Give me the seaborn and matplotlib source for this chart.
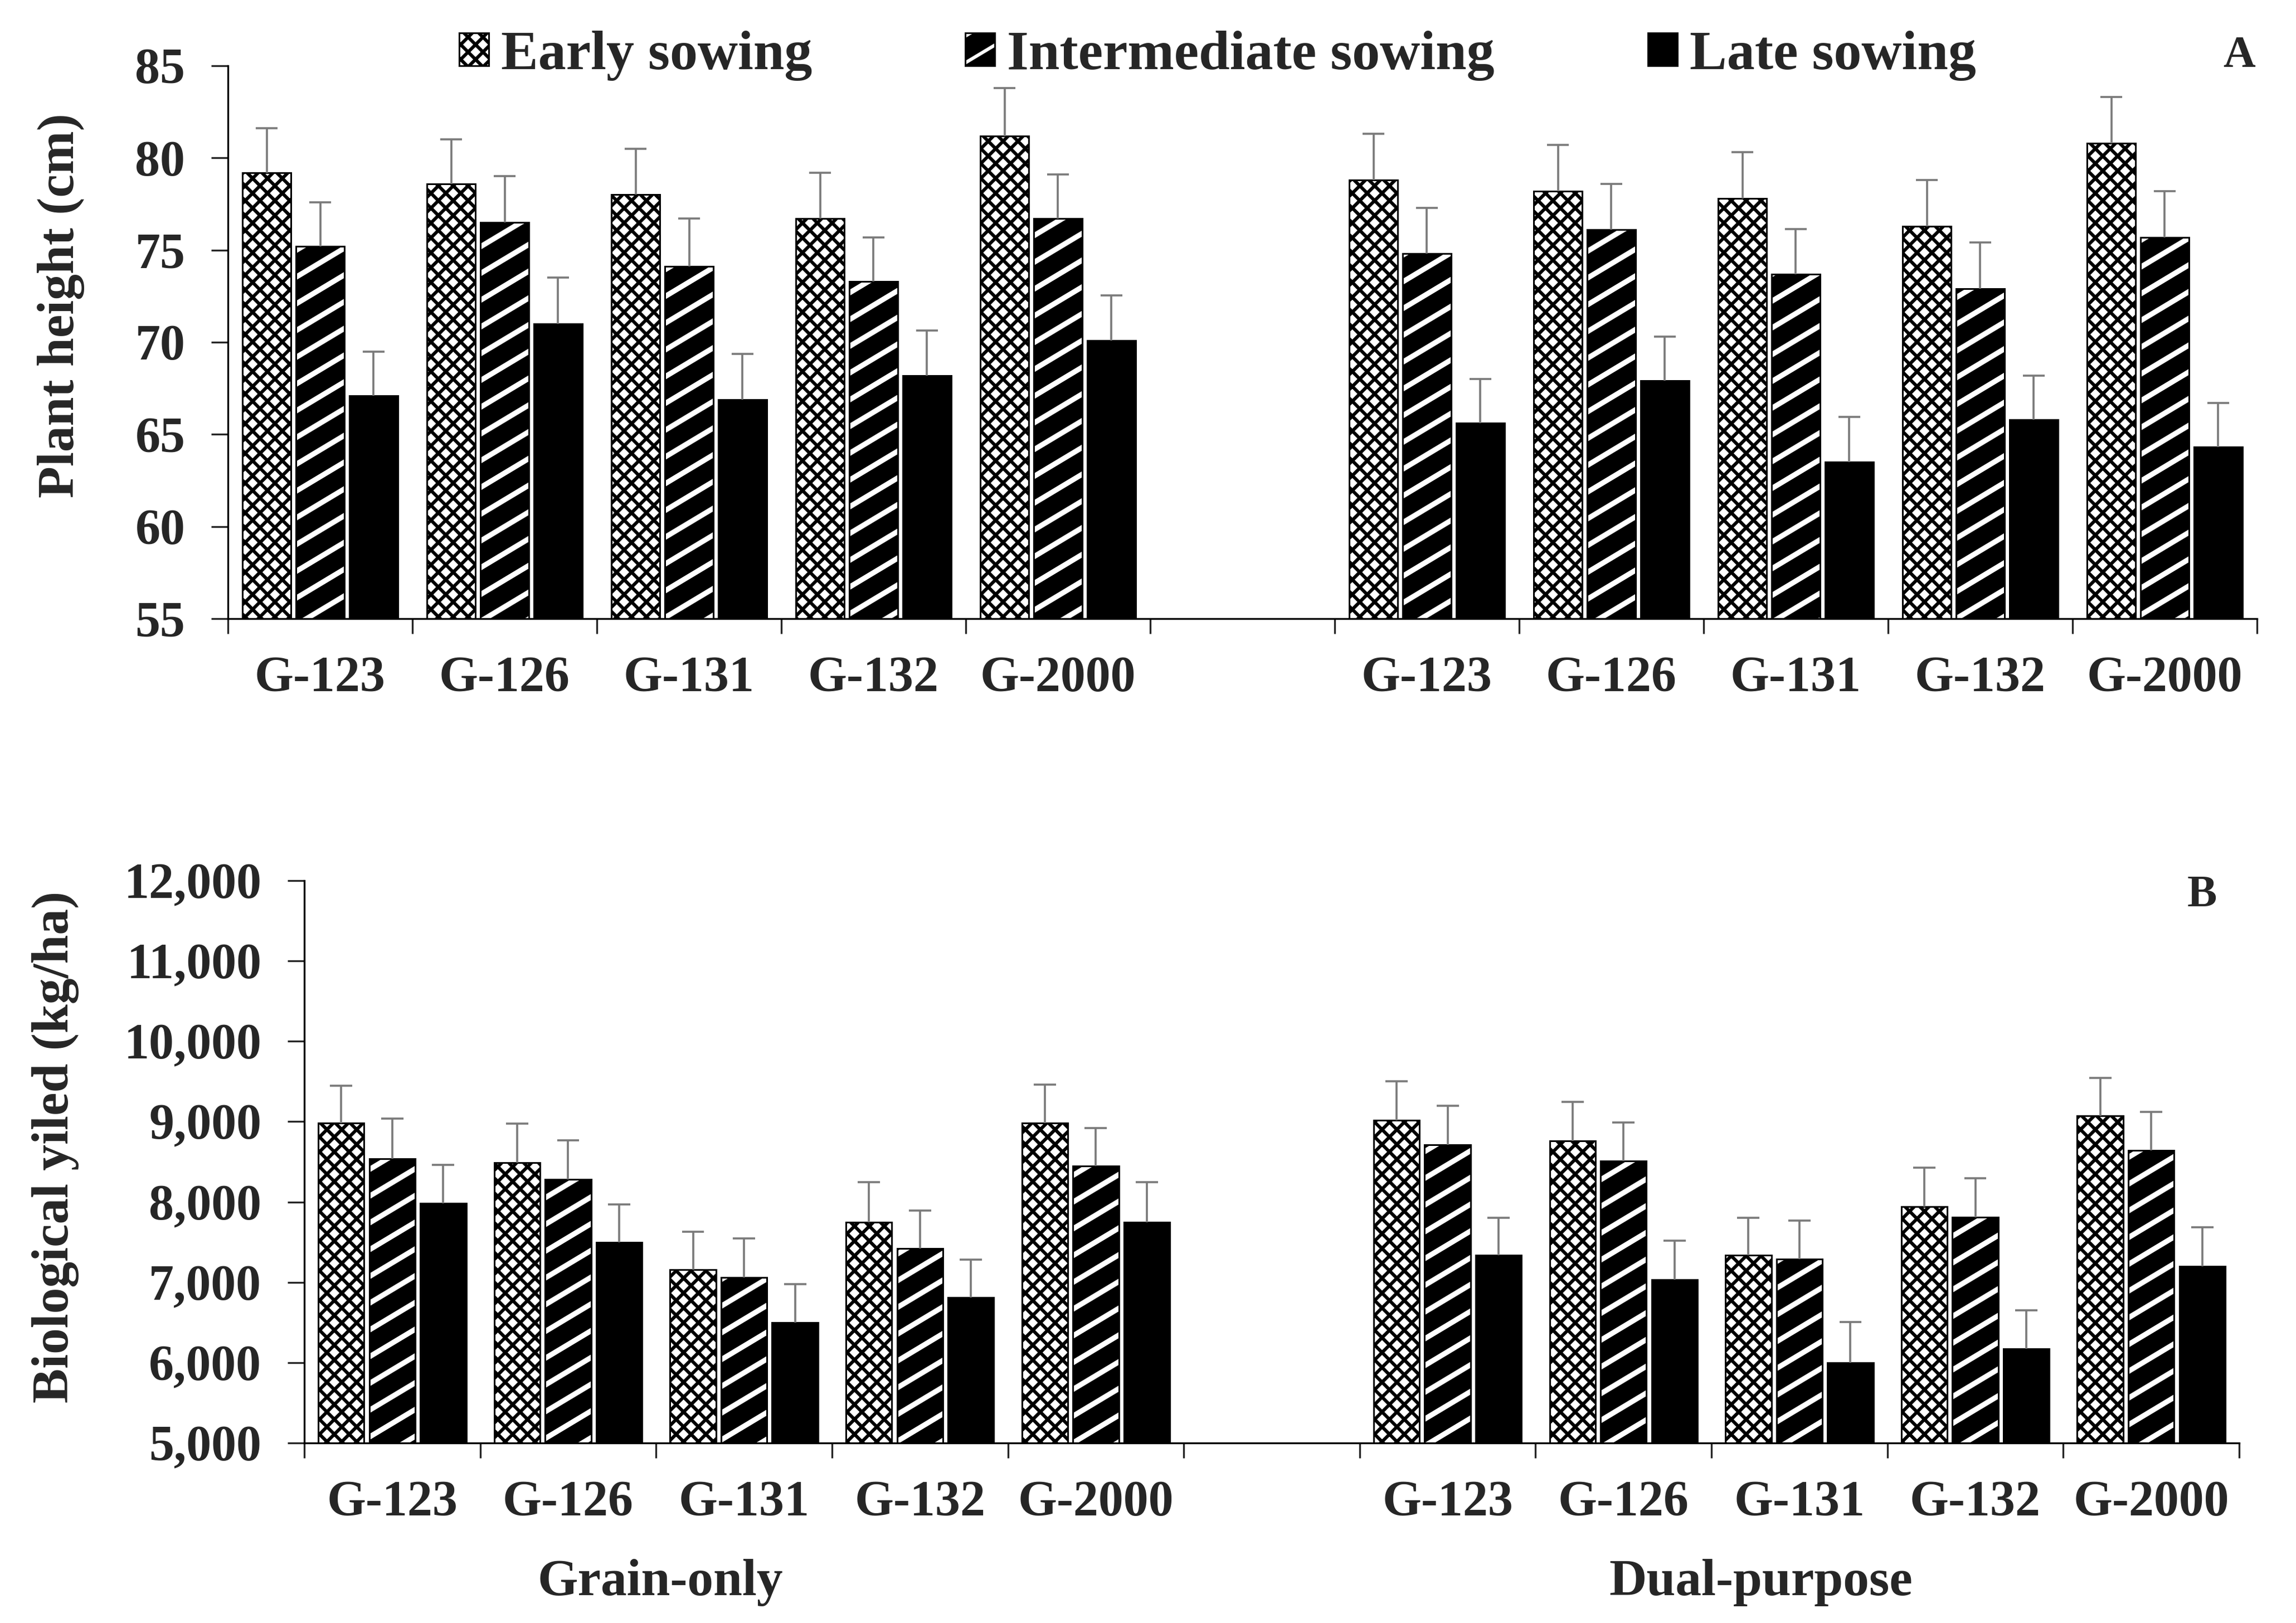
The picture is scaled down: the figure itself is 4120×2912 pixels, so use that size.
import numpy as np
import pandas as pd
import matplotlib
matplotlib.use('Agg')
import matplotlib.pyplot as plt
import matplotlib.hatch as mhatch
from matplotlib.path import Path
import seaborn as sns
from matplotlib.ticker import StrMethodFormatter

genotypes = ['G-123', 'G-126', 'G-131', 'G-132', 'G-2000']
purposes = ['Grain-only', 'Dual-purpose']
sowing = ['Early sowing', 'Intermediate sowing', 'Late sowing']

# values: grain-only G-123..G-2000, then dual-purpose G-123..G-2000
height_early = [79.2, 78.6, 78.0, 76.7, 81.2, 78.8, 78.2, 77.8, 76.3, 80.8]
height_inter = [75.2, 76.5, 74.1, 73.3, 76.7, 74.8, 76.1, 73.7, 72.9, 75.7]
height_late = [67.1, 71.0, 66.9, 68.2, 70.1, 65.6, 67.9, 63.5, 65.8, 64.3]
height_err_early = [2.4, 2.4, 2.5, 2.5, 2.6, 2.5, 2.5, 2.5, 2.5, 2.5]
height_err_inter = [2.4, 2.5, 2.6, 2.4, 2.4, 2.5, 2.5, 2.45, 2.5, 2.5]
height_err_late = [2.4, 2.5, 2.45, 2.45, 2.45, 2.4, 2.4, 2.45, 2.4, 2.4]

yield_early = [8980, 8490, 7160, 7750, 8980, 9020, 8760, 7340, 7940, 9070]
yield_inter = [8540, 8280, 7060, 7420, 8450, 8710, 8510, 7290, 7810, 8640]
yield_late = [7980, 7500, 6500, 6810, 7750, 7340, 7030, 6000, 6170, 7200]
yield_err_early = [465, 485, 472, 498, 478, 485, 485, 466, 485, 472]
yield_err_inter = [500, 485, 485, 472, 472, 486, 478, 479, 485, 479]
yield_err_late = [479, 472, 479, 473, 498, 466, 486, 505, 478, 485]

W, H, DPI = 4120, 2912, 240
sns.set_style('ticks')
plt.rcParams['font.family'] = ['Liberation Serif', 'DejaVu Serif']
plt.rcParams['font.weight'] = 'bold'
plt.rcParams['hatch.linewidth'] = 1.8


# shallow "wide upward diagonal" stripes, used in place of the '|' hatch
class SlantHatch(mhatch.HatchPatternBase):
    def __init__(self, hatch, density):
        self.num_lines = hatch.count('|') * 5
        self.num_vertices = self.num_lines * 6

    def set_vertices_and_codes(self, vertices, codes):
        n = self.num_lines
        y0 = np.arange(-n, 2 * n) / n
        vertices[0::2, 0] = -0.5
        vertices[0::2, 1] = y0 - 0.3
        vertices[1::2, 0] = 1.5
        vertices[1::2, 1] = y0 + 0.9
        codes[0::2] = Path.MOVETO
        codes[1::2] = Path.LINETO


mhatch._hatch_types = [SlantHatch if t is mhatch.VerticalHatch else t for t in mhatch._hatch_types]

keys = [p + '|' + g for p in purposes for g in genotypes]
slot_order = keys[:5] + ['gap'] + keys[5:]


def long_df(early, inter, late):
    rows = []
    for s, vals in zip(sowing, [early, inter, late]):
        for k, v in zip(keys, vals):
            rows.append({'slot': k, 'sowing': s, 'value': v})
    return pd.DataFrame(rows)


dfA = long_df(height_early, height_inter, height_late)
dfB = long_df(yield_early, yield_inter, yield_late)

fig = plt.figure(figsize=(W / DPI, H / DPI), dpi=DPI)
axA = fig.add_axes([409 / W, 1 - 1110 / H, (4050 - 409) / W, (1110 - 118) / H])
axB = fig.add_axes([546 / W, 1 - 2589 / H, (4018 - 546) / W, (2589 - 1580) / H])


def style_bars(ax):
    for p in ax.containers[0].patches:
        p.set_hatch('xxx')
        if hasattr(p, 'set_hatch_linewidth'):
            p.set_hatch_linewidth(1.8)
    for p in ax.containers[1].patches:
        p.set_hatch('|')
        if hasattr(p, 'set_hatch_linewidth'):
            p.set_hatch_linewidth(2.8)
        if hasattr(p, 'set_hatchcolor'):
            p.set_hatchcolor('white')
        else:
            p._hatch_color = (1, 1, 1, 1)


def add_err(ax, errs, half):
    for cont, err in zip(ax.containers, errs):
        xs = np.array([p.get_x() + p.get_width() / 2 for p in cont.patches])
        ys = np.array([p.get_height() for p in cont.patches])
        tops = ys + np.array(err)
        ax.vlines(xs, ys, tops, color='#7a7a7a', lw=1.1, zorder=3)
        ax.hlines(tops, xs - half, xs + half, color='#7a7a7a', lw=1.1, zorder=3)


def style_axis(ax, ylim, yticks):
    ax.set_xlim(-0.5, 10.5)
    ax.set_ylim(*ylim)
    ax.set_yticks(yticks)
    ax.set_xticks(np.arange(-0.5, 11, 1))
    ax.set_xticklabels([])
    centers = [i for i in range(11) if i != 5]
    ax.set_xticks(centers, labels=genotypes + genotypes, minor=True)
    ax.tick_params(axis='x', which='major', length=8, width=1.0, direction='out')
    ax.tick_params(axis='x', which='minor', length=0, pad=20, labelsize=27)
    ax.tick_params(axis='y', length=9, width=1.0, pad=14, labelsize=27)
    ax.set_xlabel('')
    ax.set_ylabel('')
    for s in ['top', 'right']:
        ax.spines[s].set_visible(False)
    for s in ['left', 'bottom']:
        ax.spines[s].set_linewidth(1.0)
        ax.spines[s].set_color('black')
    for lab in ax.get_xticklabels(minor=True) + ax.get_yticklabels():
        lab.set_fontweight('bold')


for ax, df, errs, ylim, yt, half in [
    (axA, dfA, [height_err_early, height_err_inter, height_err_late], (55, 85), range(55, 86, 5), 0.06),
    (axB, dfB, [yield_err_early, yield_err_inter, yield_err_late], (5000, 12000), range(5000, 12001, 1000), 0.063),
]:
    sns.barplot(data=df, x='slot', y='value', hue='sowing', order=slot_order, hue_order=sowing,
                palette=['white', 'black', 'black'], saturation=1, width=0.87, gap=0.1,
                edgecolor='black', linewidth=0.9, errorbar=None, legend=False, ax=ax)
    style_bars(ax)
    add_err(ax, errs, half)
    style_axis(ax, ylim, yt)

axB.yaxis.set_major_formatter(StrMethodFormatter('{x:,.0f}'))

fig.legend([axA.containers[i].patches[0] for i in range(3)], sowing, loc='center left',
           bbox_to_anchor=(824 / W, 1 - 100 / H), ncol=3, frameon=False,
           prop={'family': 'Liberation Serif', 'weight': 'bold', 'size': 30},
           handlelength=0.53, handleheight=0.53, handletextpad=0.22, columnspacing=2.75,
           borderpad=0, borderaxespad=0)

fig.text(110 / W, 1 - 548 / H, 'Plant height (cm)', rotation=90, ha='center', va='center',
         fontsize=28, fontweight='bold')
fig.text(100 / W, 1 - 2058 / H, 'Biological yiled (kg/ha)', rotation=90, ha='center', va='center',
         fontsize=28, fontweight='bold')
fig.text(4018 / W, 1 - 100 / H, 'A', ha='center', va='center', fontsize=24, fontweight='bold')
fig.text(3951 / W, 1 - 1606 / H, 'B', ha='center', va='center', fontsize=24, fontweight='bold')
fig.text(1185 / W, 1 - 2840 / H, 'Grain-only', ha='center', va='center', fontsize=28, fontweight='bold')
fig.text(3160 / W, 1 - 2840 / H, 'Dual-purpose', ha='center', va='center', fontsize=28, fontweight='bold')

fig.savefig('out.png', dpi=DPI, facecolor='white')
